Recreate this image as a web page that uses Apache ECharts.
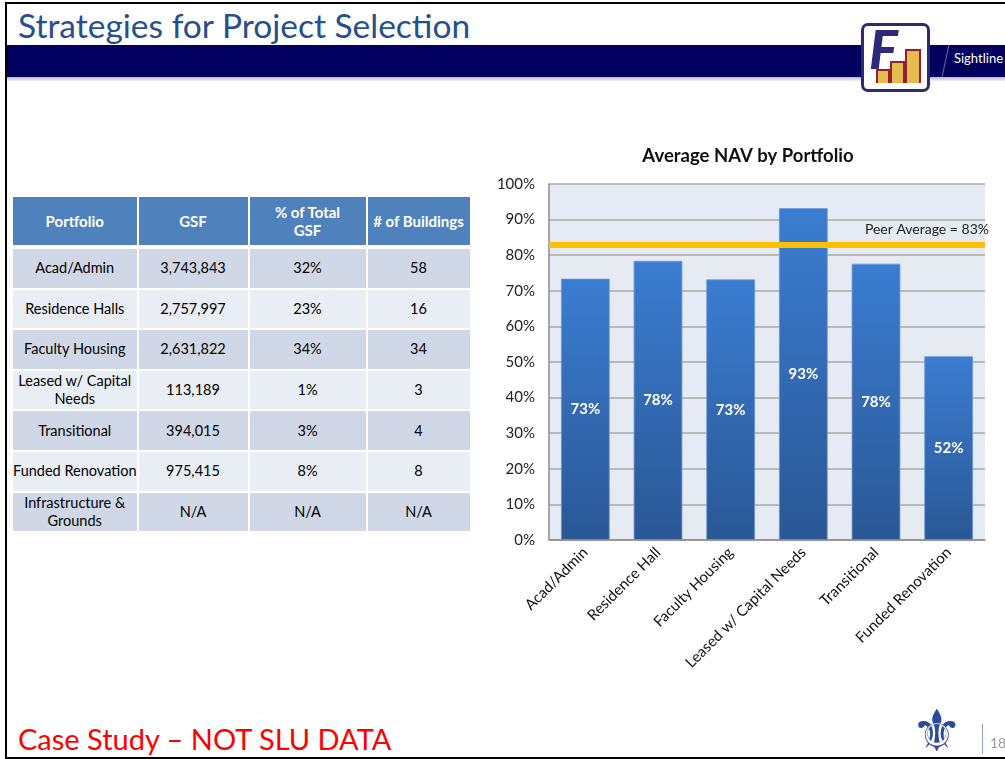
<!DOCTYPE html>
<html lang="en">
<head>
<meta charset="UTF-8">
<title>Strategies for Project Selection</title>
<script src="https://cdn.jsdelivr.net/npm/echarts@6/dist/echarts.min.js"></script>
<style>
    body { margin: 0; width: 1005px; height: 759px; overflow: hidden; background: #fff; position: relative; font-family: Lato, "Open Sans", sans-serif; }
    .frame { position: absolute; left: 5px; top: 2px; width: 1010px; height: 753px; border: 2px solid #000; border-right: none; }
    .title { position: absolute; left: 18px; top: 5px; font-size: 33.5px; color: #25508c; white-space: nowrap; }
    .band { position: absolute; left: 7px; top: 45px; width: 998px; height: 32px; background: #02005f; }
    .shade { position: absolute; left: 7px; top: 77px; width: 998px; height: 4px; background: linear-gradient(#b8b8c4, #f2f2f2); }
    .sight { position: absolute; left: 954px; top: 50px; color: #fff; font-size: 13px; white-space: nowrap; }
    .slash { position: absolute; left: 945px; top: 45px; width: 1px; height: 32px; background: #6a6aa0; transform: skewX(-12deg); }
    .logo { position: absolute; left: 861px; top: 23px; width: 63px; height: 63px; border: 3px solid #2e2a6e; border-radius: 7px; background: #fff; overflow: hidden; }
    .logo .f { position: absolute; left: 5px; top: -10px; font-size: 54px; font-weight: 900; font-style: italic; color: #2e2a78; }
    .logo .b { position: absolute; bottom: 6px; background: #e5bd4f; border: 2px solid #9b1b30; border-bottom: none; }
    #tbl { position: absolute; left: 11px; top: 195px; border-collapse: separate; border-spacing: 2px; }
    #tbl td, #tbl th { text-align: center; padding: 0; line-height: 18px; }
    #tbl th { background: #4f81bd; color: #fff; font-weight: bold; height: 48px; font-size: 15px; white-space: nowrap; }
    #tbl td { height: 38.6px; color: #000; font-size: 14.5px; white-space: nowrap; }
    #tbl tr.first td { border-top: 2px solid #fff; }
    #tbl tr.odd td { background: #d0d8e8; }
    #tbl tr.even td { background: #e9edf4; }
    #chart { position: absolute; left: 480px; top: 130px; width: 525px; height: 570px; }
    .note { position: absolute; left: 18px; top: 721px; font-size: 29px; color: #ff0000; white-space: nowrap; }
    .crest { position: absolute; left: 911px; top: 699px; font-family: "DejaVu Sans"; font-size: 58px; line-height: 64px; color: #2a4a9a; }
    .vline { position: absolute; left: 982px; top: 724px; width: 1px; height: 30px; background: #8ea0c0; }
    .page { position: absolute; left: 990px; top: 734px; font-size: 14px; color: #999; }
</style>
</head>
<body>
<div class="frame"></div>
<div class="title">Strategies for Project Selection</div>
<div class="band"></div>
<div class="shade"></div>
<div class="slash"></div>
<div class="sight">Sightline</div>
<div class="logo">
    <div class="f">F</div>
    <div class="b" style="left:12px;width:10px;height:12px;"></div>
    <div class="b" style="left:26px;width:11px;height:20px;"></div>
    <div class="b" style="left:41px;width:12px;height:32px;"></div>
</div>
<table id="tbl"></table>
<div id="chart"></div>
<div class="note">Case Study – NOT SLU DATA</div>
<div class="crest">⚜</div>
<div class="vline"></div>
<div class="page">18</div>
<script>
    // table data
    var tableHeaders = ['Portfolio', 'GSF', '% of Total\nGSF', '# of Buildings'];
    var portfolios = ['Acad/Admin', 'Residence Halls', 'Faculty Housing', 'Leased w/ Capital\nNeeds', 'Transitional', 'Funded Renovation', 'Infrastructure &\nGrounds'];
    var gsf = ['3,743,843', '2,757,997', '2,631,822', '113,189', '394,015', '975,415', 'N/A'];
    var pctTotal = ['32%', '23%', '34%', '1%', '3%', '8%', 'N/A'];
    var buildings = ['58', '16', '34', '3', '4', '8', 'N/A'];
    var colWidths = [122, 109, 116, 102];

    // chart data
    var navCategories = ['Acad/Admin', 'Residence Hall', 'Faculty Housing', 'Leased w/ Capital Needs', 'Transitional', 'Funded Renovation'];
    var navValues = [73.4, 78.4, 73.2, 93.2, 77.6, 51.6];
    var peerAverage = 83;

    function cell(tag, text, w) {
        var c = document.createElement(tag);
        c.innerHTML = text.replace(/&/g, '&amp;').replace(/\n/g, '<br>');
        if (w) c.style.width = w + 'px';
        return c;
    }
    function buildTable() {
        var t = document.getElementById('tbl');
        var head = document.createElement('tr');
        tableHeaders.forEach(function (h, i) { head.appendChild(cell('th', h, colWidths[i])); });
        t.appendChild(head);
        portfolios.forEach(function (p, i) {
            var tr = document.createElement('tr');
            tr.className = (i % 2 === 0 ? 'odd' : 'even') + (i === 0 ? ' first' : '');
            [p, gsf[i], pctTotal[i], buildings[i]].forEach(function (v) { tr.appendChild(cell('td', v)); });
            t.appendChild(tr);
        });
    }

    function bar() {
        var mychart = echarts.init(document.getElementById('chart'));
        var option = {
            animation: false,
            textStyle: { fontFamily: 'Lato' },
            title: {
                text: 'Average NAV by Portfolio',
                left: 263, top: 12, textAlign: 'center',
                textStyle: { fontSize: 18.5, fontWeight: 'bold', color: '#111', fontFamily: 'Lato' }
            },
            grid: { left: 69, right: 20, top: 54, bottom: 160, show: true, backgroundColor: '#e6ebf3', borderWidth: 0 },
            xAxis: {
                type: 'category',
                data: navCategories,
                axisLine: { lineStyle: { color: '#8c8c8c', width: 1.5 } },
                axisTick: { length: 5, lineStyle: { color: '#8c8c8c', width: 1.5 } },
                axisLabel: { interval: 0, rotate: 45, fontSize: 15, color: '#111', margin: 10 }
            },
            yAxis: {
                type: 'value', min: 0, max: 100, interval: 10,
                axisLine: { show: true, lineStyle: { color: '#8c8c8c', width: 1.5 } },
                axisTick: { show: false },
                axisLabel: { formatter: '{value}%', fontSize: 15, color: '#222', margin: 14 },
                splitLine: { lineStyle: { color: '#a8a8a8', width: 1.5 } }
            },
            series: [{
                name: 'Average NAV',
                type: 'bar',
                data: navValues,
                barCategoryGap: '33%',
                itemStyle: {
                    color: new echarts.graphic.LinearGradient(0, 0, 0, 1, [
                        { offset: 0, color: '#3b7dd2' },
                        { offset: 1, color: '#2a5795' }
                    ]),
                    borderColor: '#6a98d6', borderWidth: 0.8
                },
                label: {
                    show: true, position: 'inside', color: '#fff', fontWeight: 'bold', fontSize: 15,
                    formatter: function (p) { return Math.round(p.value) + '%'; }
                },
                markLine: {
                    symbol: 'none', silent: true,
                    lineStyle: { color: '#ffc000', width: 6, type: 'solid' },
                    label: { position: 'insideEndTop', formatter: 'Peer Average = ' + peerAverage + '%', color: '#222', fontSize: 14, distance: [-4, 8] },
                    data: [{ yAxis: peerAverage }]
                }
            }]
        };
        mychart.setOption(option);
    }

    buildTable();
    bar();
</script>
</body>
</html>
